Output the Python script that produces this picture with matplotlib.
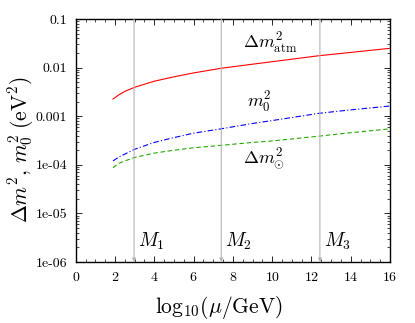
import matplotlib
matplotlib.use("Agg")
import matplotlib.pyplot as plt
import numpy as np
from matplotlib.ticker import MultipleLocator, LogLocator, FixedLocator, NullFormatter

plt.rcParams['mathtext.fontset'] = 'cm'
plt.rcParams['font.family'] = 'cmr10'
plt.rcParams['axes.formatter.use_mathtext'] = True

# log10(mu/GeV)
mu = [1.9, 2.2, 2.5, 3.0, 4.0, 5.0, 6.0, 7.4, 9.0, 10.0, 12.4, 14.0, 16.0]
# log10 of the running quantities (eV^2)
log_atm = [-2.646, -2.56, -2.49, -2.405, -2.28, -2.19, -2.11, -2.014, -1.93, -1.879, -1.755, -1.688, -1.603]
log_m0 = [-3.92, -3.84, -3.78, -3.68, -3.54, -3.44, -3.35, -3.26, -3.15, -3.09, -2.94, -2.87, -2.79]
log_sol = [-4.06, -3.97, -3.92, -3.85, -3.76, -3.70, -3.65, -3.60, -3.54, -3.51, -3.41, -3.34, -3.26]

thresholds = [2.97, 7.41, 12.43]
threshold_names = [r'$M_1$', r'$M_2$', r'$M_3$']

ytick_vals = [1e-6, 1e-5, 1e-4, 1e-3, 1e-2, 1e-1]
ytick_labels = ['1e-06', '1e-05', '1e-04', '0.001', '0.01', '0.1']

fig = plt.figure(figsize=(4.15, 3.23), dpi=100)
ax = fig.add_axes([0.1824, 0.1889, 0.7574, 0.7523])

mu = np.array(mu)
ax.plot(mu, 10 ** np.array(log_atm), color='red', lw=0.8, ls='-')
ax.plot(mu, 10 ** np.array(log_m0), color='blue', lw=0.8, ls=(0, (5, 2, 1, 2)))
ax.plot(mu, 10 ** np.array(log_sol), color='#22aa00', lw=0.8, ls=(0, (4, 2.5)))

for xt, name in zip(thresholds, threshold_names):
    ax.annotate('', xy=(xt, 1e-6), xytext=(xt, 1e-1),
                arrowprops=dict(arrowstyle='-|>', color='#b4b4b4', lw=0.8,
                                mutation_scale=5, shrinkA=0, shrinkB=0))
    ax.text(xt + 0.2, 2.05e-6, name, fontsize=14, ha='left', va='baseline')

ax.text(9.9, 0.032, r'$\Delta m^2_{\rm atm}$', fontsize=13, ha='center', va='center')
ax.text(9.35, 0.0019, r'$m^2_0$', fontsize=13, ha='center', va='center')
ax.text(9.6, 1.3e-4, r'$\Delta m^2_{\odot}$', fontsize=13, ha='center', va='center')

ax.set_xlim(0, 16)
ax.set_ylim(1e-6, 1e-1)
ax.set_yscale('log')
ax.xaxis.set_major_locator(MultipleLocator(2))
ax.xaxis.set_minor_locator(MultipleLocator(0.5))
ax.yaxis.set_major_locator(FixedLocator(ytick_vals))
ax.set_yticklabels(ytick_labels)
ax.yaxis.set_minor_locator(LogLocator(base=10, subs=np.arange(2, 10)))
ax.yaxis.set_minor_formatter(NullFormatter())
ax.tick_params(which='both', direction='in', top=True, right=True, labelsize=10)
ax.tick_params(axis='x', which='major', pad=6.5)
ax.tick_params(axis='y', which='major', pad=6)
ax.tick_params(which='major', length=4, width=0.6)
ax.tick_params(which='minor', length=2, width=0.5)
for sp in ax.spines.values():
    sp.set_linewidth(1.0)

ax.set_xlabel(r'$\mathrm{log}_{\mathbf{10}}(\mu/\mathrm{GeV})$', fontsize=15.5)
ax.xaxis.set_label_coords(0.456, -0.132)
ax.set_ylabel(r'$\Delta m^2,\, m^2_0\;(\mathrm{eV}^2)$', fontsize=15.5)
ax.yaxis.set_label_coords(-0.126, 0.461)

fig.savefig('out.png', dpi=100)
